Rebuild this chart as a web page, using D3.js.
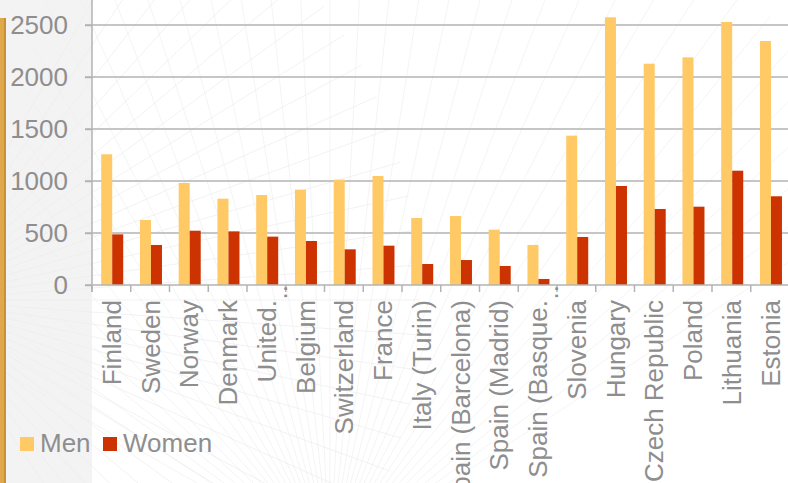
<!DOCTYPE html>
<html>
<head>
<meta charset="utf-8">
<script src="https://cdn.jsdelivr.net/npm/d3@7"></script>
<style>
  html, body { margin: 0; padding: 0; background: #fff; overflow: hidden; }
  svg { display: block; }
  svg text { font-family: "Liberation Sans", Arial, sans-serif; }
</style>
</head>
<body>
<svg id="chart" width="788" height="483"></svg>
<script>
// ---- data ----
const categories = ["Finland", "Sweden", "Norway", "Denmark", "United...", "Belgium", "Switzerland", "France",
  "Italy (Turin)", "Spain (Barcelona)", "Spain (Madrid)", "Spain (Basque...", "Slovenia", "Hungary",
  "Czech Republic", "Poland", "Lithuania", "Estonia"];
const seriesNames = ["Men", "Women"];
const men =   [1257, 625, 981, 830, 865, 917, 1013, 1048, 644, 663, 532, 385, 1436, 2574, 2128, 2189, 2529, 2346];
const women = [ 487, 385, 522, 516, 465, 423,  343,  378, 202, 240, 183,  58,  462,  952,  731,  753, 1099,  853];
const yTicks = [0, 500, 1000, 1500, 2000, 2500];
const colors = { Men: "#FFCA66", Women: "#CC3300" };

const svg = d3.select("#chart");
const W = 788, H = 483;
const FONT = "'Liberation Sans', Arial, sans-serif";
const FS = 26;

// ---- faint decorative background ----
const bg = svg.append("g").attr("class", "bg");
bg.append("rect").attr("x", 0).attr("y", 0).attr("width", 92).attr("height", H).attr("fill", "#f3f3f3");
function fan(cx, cy, from, to, step, r, col) {
  d3.range(from, to, step).forEach(a => {
    const rad = a * Math.PI / 180;
    bg.append("line").attr("x1", cx).attr("y1", cy)
      .attr("x2", cx + r * Math.cos(rad)).attr("y2", cy + r * Math.sin(rad))
      .attr("stroke", col).attr("stroke-width", 0.7);
  });
}
fan(330, 560, -150, -30, 3, 700, "#efefef");
fan(-80, 300, -60, 60, 4, 500, "#ececec");

// ---- scales ----
const x0 = d3.scaleBand().domain(categories).range([92, 789.5]).padding(0);
const x1 = d3.scaleBand().domain(seriesNames).range([0, x0.bandwidth()]).paddingInner(0).paddingOuter(0.76).align(0.55);
const y = d3.scaleLinear().domain([0, 2500]).range([285, 25]);

const gridColor = "#b3b3b3";
const textColor = "#8e8e8e";

// gridlines
svg.append("g").selectAll("line").data(yTicks.filter(d => d > 0)).join("line")
  .attr("x1", 85).attr("x2", W).attr("y1", d => y(d)).attr("y2", d => y(d))
  .attr("stroke", gridColor).attr("stroke-width", 1.5);

// bars
const rows = categories.map((c, i) => ({ cat: c, Men: men[i], Women: women[i] }));
const groups = svg.append("g").selectAll("g").data(rows).join("g")
  .attr("transform", d => `translate(${x0(d.cat)},0)`);
groups.selectAll("rect").data(d => seriesNames.map(s => ({ s, v: d[s] }))).join("rect")
  .attr("x", d => x1(d.s)).attr("width", x1.bandwidth())
  .attr("y", d => y(d.v)).attr("height", d => y(0) - y(d.v))
  .attr("fill", d => colors[d.s]);

// y axis
const yAxis = svg.append("g").attr("transform", "translate(92,0)")
  .call(d3.axisLeft(y).tickValues(yTicks).tickFormat(d3.format("d")).tickSize(7).tickPadding(17));
yAxis.attr("font-family", FONT).attr("font-size", FS);
yAxis.select(".domain").attr("stroke", gridColor).attr("stroke-width", 1.5).attr("d", `M0,-40V${y(0) + 7}`);
yAxis.selectAll(".tick line").attr("stroke", gridColor).attr("stroke-width", 1.5);
yAxis.selectAll(".tick text").attr("fill", textColor).attr("font-size", FS).attr("font-family", FONT);

// x axis
const xAxisG = svg.append("g").attr("transform", `translate(0,${y(0)})`);
xAxisG.append("line").attr("x1", 85).attr("x2", W).attr("y1", 0).attr("y2", 0)
  .attr("stroke", gridColor).attr("stroke-width", 1.5);
xAxisG.selectAll("line.tk").data(categories).join("line").attr("class", "tk")
  .attr("x1", d => x0(d)).attr("x2", d => x0(d)).attr("y1", 0).attr("y2", 7)
  .attr("stroke", gridColor).attr("stroke-width", 1.5);
xAxisG.selectAll("text.lbl").data(categories).join("text").attr("class", "lbl")
  .attr("transform", d => `translate(${x0(d) + x0.bandwidth() / 2},15) rotate(-90)`)
  .attr("text-anchor", "end").attr("dy", "0.36em")
  .attr("fill", textColor).attr("font-size", FS).attr("font-family", FONT)
  .text(d => d.endsWith("...") ? d.slice(0, -2) : d);
// remaining ellipsis dots of truncated labels, drawn beside the next tick
xAxisG.selectAll("text.ell").data(categories.filter(d => d.endsWith("..."))).join("text").attr("class", "ell")
  .attr("transform", d => `translate(${x0(d) + x0.bandwidth() - 8},0) rotate(-90)`)
  .attr("text-anchor", "end").attr("dy", "0.36em")
  .attr("fill", textColor).attr("font-size", FS).attr("font-family", FONT).text("..");

// left gold stripe
svg.append("rect").attr("x", 0).attr("y", 18).attr("width", 6).attr("height", H - 18).attr("fill", "#DFA84A");
svg.append("rect").attr("x", 4).attr("y", 18).attr("width", 2).attr("height", H - 18).attr("fill", "#C99038");

// legend
const leg = svg.append("g");
const legX = [20, 103];
seriesNames.forEach((s, i) => {
  leg.append("rect").attr("x", legX[i]).attr("y", 437).attr("width", 14).attr("height", 14).attr("fill", colors[s]);
  leg.append("text").attr("x", legX[i] + 20).attr("y", 452).attr("fill", textColor)
    .attr("font-size", FS).attr("font-family", FONT).text(s);
});
</script>
</body>
</html>
